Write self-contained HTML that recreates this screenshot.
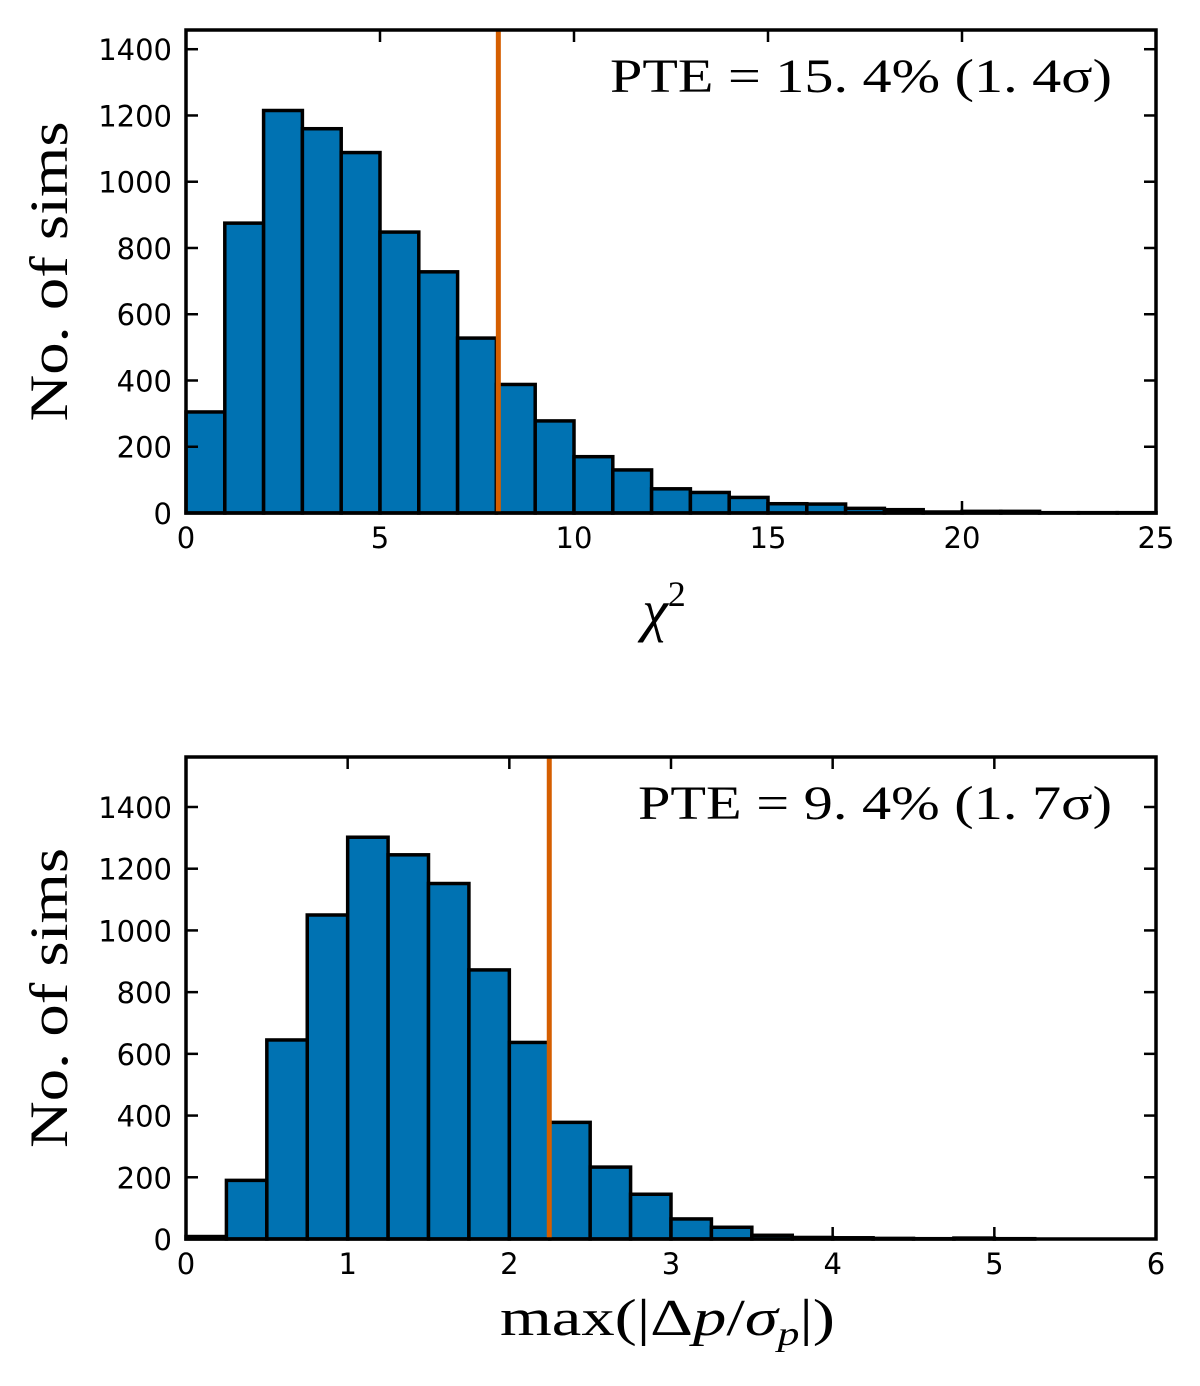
<!DOCTYPE html>
<html><head><meta charset="utf-8"><style>
html,body{margin:0;padding:0;background:#fff;}
svg{display:block;}
.tk{font-family:"DejaVu Sans","Liberation Sans",sans-serif;font-size:29px;fill:#000;}
.lb{font-family:"Liberation Serif","DejaVu Serif",serif;fill:#000;}
</style></head><body>
<svg id="fig" width="1200" height="1386" xmlns="http://www.w3.org/2000/svg"></svg>
<script>
const topCounts=[305,875,1215,1160,1088,848,728,528,388,278,170,130,73,62,47,28,27,14,10,3,5,5,1,1,1];
const topBinWidth=1;
const topXTicks=[0,5,10,15,20,25];
const topYTicks=[0,200,400,600,800,1000,1200,1400];
const topLine=8.05;
const botCounts=[8,190,645,1050,1302,1245,1152,872,637,378,233,145,65,38,12,5,4,2,1,3,1,0,0,0];
const botBinWidth=0.25;
const botXTicks=[0,1,2,3,4,5,6];
const botYTicks=[0,200,400,600,800,1000,1200,1400];
const botLine=2.247;
const NS="http://www.w3.org/2000/svg";
const svg=document.getElementById('fig');
function el(t,a,p){const e=document.createElementNS(NS,t);for(const k in a)e.setAttribute(k,a[k]);(p||svg).appendChild(e);return e;}
function panel(name,y0,y1,xmax,ymax,counts,bw,xt,yt,line,pte){
  const x0=186,x1=1156;
  const g=el('g',{});
  
  
  const sx=v=>x0+v/xmax*(x1-x0), sy=v=>y1-v/ymax*(y1-y0);
  counts.forEach((c,i)=>{
    if(c<=0)return;
    const r=el('rect',{x:sx(i*bw),y:sy(c),width:sx(bw)-sx(0),height:y1-sy(c),fill:'#0072b2',stroke:'#000','stroke-width':3.5},g);
    
    
  });
  const vl=el('line',{x1:sx(line),x2:sx(line),y1:y0,y2:y1,stroke:'#d55e00','stroke-width':5},g);
  
  
  const fr=el('rect',{x:x0,y:y0,width:x1-x0,height:y1-y0,fill:'none',stroke:'#000','stroke-width':3.5},g);
  
  
  xt.forEach(v=>{
    el('line',{x1:sx(v),x2:sx(v),y1:y1,y2:y1-12,stroke:'#000','stroke-width':2.5},g);
    el('line',{x1:sx(v),x2:sx(v),y1:y0,y2:y0+12,stroke:'#000','stroke-width':2.5},g);
    const t=el('text',{x:sx(v),y:y1+35,'text-anchor':'middle',class:'tk'},g);t.textContent=v;
    
    
  });
  yt.forEach(v=>{
    el('line',{x1:x0,x2:x0+12,y1:sy(v),y2:sy(v),stroke:'#000','stroke-width':2.5},g);
    el('line',{x1:x1,x2:x1-12,y1:sy(v),y2:sy(v),stroke:'#000','stroke-width':2.5},g);
    const t=el('text',{x:172,y:sy(v)+11,'text-anchor':'end',class:'tk'},g);t.textContent=v;
    
    
  });
  const yl=el('text',{x:0,y:0,'text-anchor':'middle',class:'lb','font-size':54,textLength:300,lengthAdjust:'spacingAndGlyphs',transform:`translate(67,${(y0+y1)/2}) rotate(-90)`},g);
  yl.textContent='No. of sims';
  
  
  const pt=el('text',{x:pte.x,y:y0+62,class:'lb','font-size':48,textLength:pte.w,lengthAdjust:'spacingAndGlyphs'},g);
  pt.textContent=pte.t;
  
  
  return g;
}
panel('chi2-histogram',30,513,25,1458,topCounts,topBinWidth,topXTicks,topYTicks,topLine,{x:610,w:502,t:'PTE = 15. 4% (1. 4σ)'});
panel('max-deviation-histogram',757,1239,6,1562,botCounts,botBinWidth,botXTicks,botYTicks,botLine,{x:638,w:474,t:'PTE = 9. 4% (1. 7σ)'});
const xl1=el('text',{x:664,y:630,'text-anchor':'middle',class:'lb','font-size':58,'font-style':'italic'});
xl1.innerHTML='χ<tspan dy="-24" font-size="36" font-style="normal">2</tspan>';


const xl2=el('text',{x:500,y:1335,class:'lb','font-size':52,textLength:335,lengthAdjust:'spacingAndGlyphs'});
xl2.innerHTML='max(|Δ<tspan font-style="italic">p</tspan>/<tspan font-style="italic">σ</tspan><tspan dy="10" font-size="34" font-style="italic">p</tspan><tspan dy="-10">|)</tspan>';


</script>
</body></html>
